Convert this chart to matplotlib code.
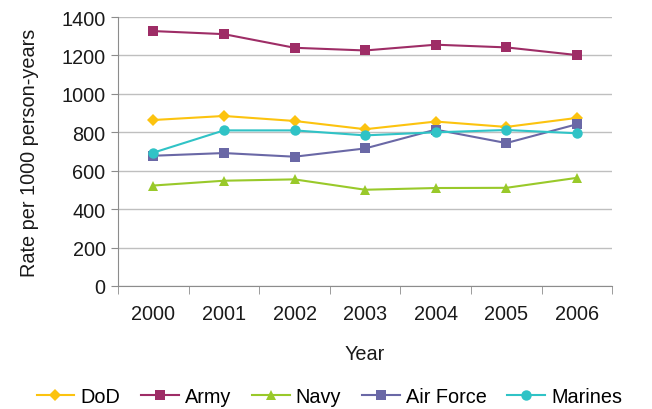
import matplotlib.pyplot as plt
import numpy as np

years = ["2000", "2001", "2002", "2003", "2004", "2005", "2006"]
dod = [864, 885, 859, 816, 856, 828, 875]
army = [1327, 1311, 1240, 1226, 1256, 1242, 1202]
navy = [523, 548, 555, 501, 510, 511, 563]
air_force = [678, 692, 673, 716, 814, 744, 842]
marines = [694, 810, 810, 784, 800, 812, 795]

SERIES = [
    ("DoD", dod, "#FCC30F", "D", 6),
    ("Army", army, "#9E2D66", "s", 7),
    ("Navy", navy, "#99C92A", "^", 7.5),
    ("Air Force", air_force, "#6A68A6", "s", 7),
    ("Marines", marines, "#30C3C6", "o", 7.5),
]

GRID = "#BFBFBF"
INK = "#1A1A1A"
FS = 14.3


def main():
    plt.rcParams["font.family"] = ["Liberation Sans", "DejaVu Sans"]
    fig = plt.figure(figsize=(6.52, 4.10), dpi=100)
    ax = fig.add_axes([0.181, 0.300, 0.758, 0.656])

    x = np.arange(len(years))
    for name, vals, color, marker, ms in SERIES:
        ax.plot(x, vals, color=color, linewidth=1.5, marker=marker,
                markersize=ms, markeredgewidth=0, label=name, zorder=3)

    ax.set_xlim(-0.5, len(years) - 0.5)
    ax.set_ylim(0, 1400)
    ax.set_yticks(np.arange(0, 1401, 200))
    ax.set_xticks(x)
    ax.set_xticklabels(years)
    ax.set_xticks(np.arange(-0.5, len(years), 1), minor=True)

    ax.grid(axis="y", color=GRID, linewidth=1.0)
    ax.set_axisbelow(True)
    for side in ["top", "right"]:
        ax.spines[side].set_visible(False)
    ax.spines["left"].set_color("#8C8C8C")
    ax.spines["bottom"].set_color("#8C8C8C")

    ax.tick_params(axis="x", which="major", length=0, pad=13, labelsize=FS, colors=INK)
    ax.tick_params(axis="x", which="minor", length=6, color="#8C8C8C")
    ax.tick_params(axis="y", length=5, color="#8C8C8C", pad=4, labelsize=FS, labelcolor=INK)

    ax.set_xlabel("Year", fontsize=FS, color=INK, labelpad=15)
    ax.set_ylabel("Rate per 1000 person-years", fontsize=FS, color=INK, labelpad=16)

    fig.legend(loc="center", bbox_to_anchor=(0.505, 0.03), ncol=5, frameon=False,
               fontsize=FS, handlelength=1.9, handletextpad=0.3, columnspacing=1.05)

    fig.savefig("out.png", dpi=100)
    plt.close(fig)


if __name__ == "__main__":
    main()
